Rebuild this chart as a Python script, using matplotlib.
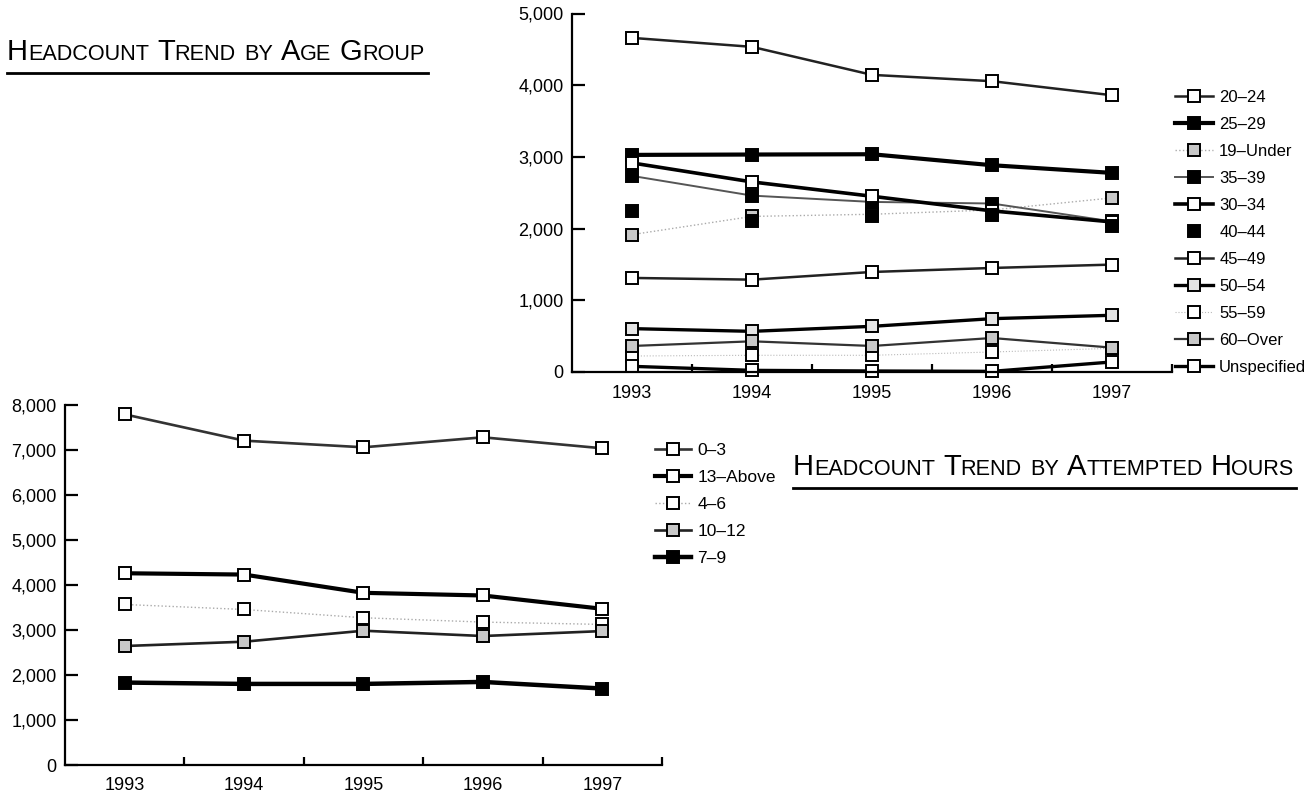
import numpy as np
import matplotlib
matplotlib.use('Agg')
import matplotlib.pyplot as plt
from matplotlib.lines import Line2D
from matplotlib.ticker import FixedLocator

plt.rcParams['font.family'] = ['Liberation Sans', 'DejaVu Sans']

W, H = 1312, 798

years = ['1993', '1994', '1995', '1996', '1997']

## headcount by age group (top chart)
age_20_24 = [4660, 4535, 4144, 4056, 3860]
age_25_29 = [3028, 3033, 3037, 2884, 2777]
age_19_under = [1916, 2170, 2200, 2260, 2428]
age_35_39 = [2735, 2460, 2372, 2350, 2100]
age_30_34 = [2916, 2651, 2451, 2247, 2093]
age_40_44 = [2247, 2110, 2180, 2190, 2030]
age_45_49 = [1312, 1288, 1395, 1451, 1498]
age_50_54 = [605, 567, 637, 744, 791]
age_55_59 = [223, 233, 233, 279, 330]
age_60_over = [363, 428, 363, 474, 340]
age_unspec = [79, 23, 14, 9, 140]

## headcount by attempted hours (bottom chart)
hours_0_3 = [7792, 7208, 7060, 7282, 7038]
hours_13_above = [4261, 4232, 3826, 3767, 3471]
hours_4_6 = [3567, 3456, 3272, 3176, 3124]
hours_10_12 = [2644, 2740, 2984, 2866, 2976]
hours_7_9 = [1832, 1802, 1802, 1846, 1699]

top_yticks = [0, 1000, 2000, 3000, 4000, 5000]
top_ylabels = ['0', '1,000', '2,000', '3,000', '4,000', '5,000']
bot_yticks = [0, 1000, 2000, 3000, 4000, 5000, 6000, 7000, 8000]
bot_ylabels = ['0', '1,000', '2,000', '3,000', '4,000', '5,000', '6,000', '7,000', '8,000']

WHITE = 'white'
GRAY = '#c8c8c8'
LIGHT = '#e4e4e4'
BLACK = 'black'

age_series = [
    ('20–24', age_20_24, dict(ls='-', lw=1.8, color='#222222', mfc=WHITE)),
    ('25–29', age_25_29, dict(ls='-', lw=3.0, color=BLACK, mfc=BLACK)),
    ('19–Under', age_19_under, dict(ls=':', lw=1.0, color='#aaaaaa', mfc=GRAY)),
    ('35–39', age_35_39, dict(ls='-', lw=1.4, color='#555555', mfc=BLACK)),
    ('30–34', age_30_34, dict(ls='-', lw=2.6, color=BLACK, mfc=WHITE)),
    ('40–44', age_40_44, dict(ls='none', lw=0, color=BLACK, mfc=BLACK)),
    ('45–49', age_45_49, dict(ls='-', lw=1.8, color='#222222', mfc=WHITE)),
    ('50–54', age_50_54, dict(ls='-', lw=2.4, color=BLACK, mfc=LIGHT)),
    ('55–59', age_55_59, dict(ls=':', lw=0.8, color='#bbbbbb', mfc=WHITE)),
    ('60–Over', age_60_over, dict(ls='-', lw=1.6, color='#333333', mfc=GRAY)),
    ('Unspecified', age_unspec, dict(ls='-', lw=2.4, color=BLACK, mfc=WHITE)),
]

hour_series = [
    ('0–3', hours_0_3, dict(ls='-', lw=1.9, color='#333333', mfc=WHITE)),
    ('13–Above', hours_13_above, dict(ls='-', lw=3.0, color=BLACK, mfc=WHITE)),
    ('4–6', hours_4_6, dict(ls=':', lw=1.0, color='#aaaaaa', mfc=WHITE)),
    ('10–12', hours_10_12, dict(ls='-', lw=1.9, color='#222222', mfc=GRAY)),
    ('7–9', hours_7_9, dict(ls='-', lw=3.2, color=BLACK, mfc=BLACK)),
]

fig = plt.figure(figsize=(W / 100, H / 100), dpi=100)


def px_axes(left, top, right, bottom):
    return fig.add_axes([left / W, 1 - bottom / H, (right - left) / W, (bottom - top) / H])


def style_axes(ax, yticks, ylabels):
    ax.set_xlim(-0.5, len(years) - 0.5)
    ax.set_ylim(yticks[0], yticks[-1])
    for s in ['top', 'right']:
        ax.spines[s].set_visible(False)
    for s in ['left', 'bottom']:
        ax.spines[s].set_linewidth(1.6)
    ax.set_xticks(range(len(years)))
    ax.set_xticklabels(years, fontsize=13)
    ax.xaxis.set_minor_locator(FixedLocator(np.arange(len(years)) + 0.5))
    ax.tick_params(axis='x', which='major', length=0, pad=9)
    ax.tick_params(axis='x', which='minor', direction='in', length=6, width=1.6)
    ax.set_yticks(yticks)
    ax.set_yticklabels(ylabels, fontsize=13)
    ax.tick_params(axis='y', direction='in', length=9, width=1.6, pad=6)


def draw_series(ax, series):
    x = np.arange(len(years))
    handles = []
    for label, vals, st in series:
        ln, = ax.plot(x, vals, linestyle=st['ls'], linewidth=st['lw'], color=st['color'],
                      marker='s', markersize=9, markerfacecolor=st['mfc'],
                      markeredgecolor=BLACK, markeredgewidth=1.4, clip_on=False,
                      label=label)
        handles.append(ln)
    return handles


def smallcaps(x_px, base_px, text, big=21, small=15.6, gap=8):
    r = fig.canvas.get_renderer()
    x = x_px
    for word in text.split():
        if word.islower():
            pieces = [(word.upper(), small)]
        else:
            pieces = [(word[0], big), (word[1:].upper(), small)]
        for s, size in pieces:
            t = fig.text(x / W, 1 - base_px / H, s, fontsize=size, va='baseline', ha='left')
            x += t.get_window_extent(r).width
        x += gap
    return x - gap


ax1 = px_axes(572, 13.5, 1172, 372)
style_axes(ax1, top_yticks, top_ylabels)
h1 = draw_series(ax1, age_series)
ax1.legend(handles=h1, loc='upper left', bbox_to_anchor=(1175 / W, 1 - 90 / H),
           bbox_transform=fig.transFigure, frameon=False, fontsize=12,
           handlelength=2.3, handletextpad=0.35, labelspacing=0.72,
           borderpad=0, borderaxespad=0)

ax2 = px_axes(65, 405, 662, 765)
style_axes(ax2, bot_yticks, bot_ylabels)
h2 = draw_series(ax2, hour_series)
ax2.legend(handles=h2, loc='upper left', bbox_to_anchor=(655 / W, 1 - 443 / H),
           bbox_transform=fig.transFigure, frameon=False, fontsize=12.5,
           handlelength=2.1, handletextpad=0.35, labelspacing=0.68,
           borderpad=0, borderaxespad=0)

## titles with underline
smallcaps(7, 60, 'Headcount Trend by Age Group')
fig.add_artist(Line2D([7 / W, 428 / W], [1 - 73 / H, 1 - 73 / H], color=BLACK, lw=2))
smallcaps(793, 475, 'Headcount Trend by Attempted Hours')
fig.add_artist(Line2D([793 / W, 1296 / W], [1 - 488 / H, 1 - 488 / H], color=BLACK, lw=2))

fig.savefig('out.png', dpi=100)
